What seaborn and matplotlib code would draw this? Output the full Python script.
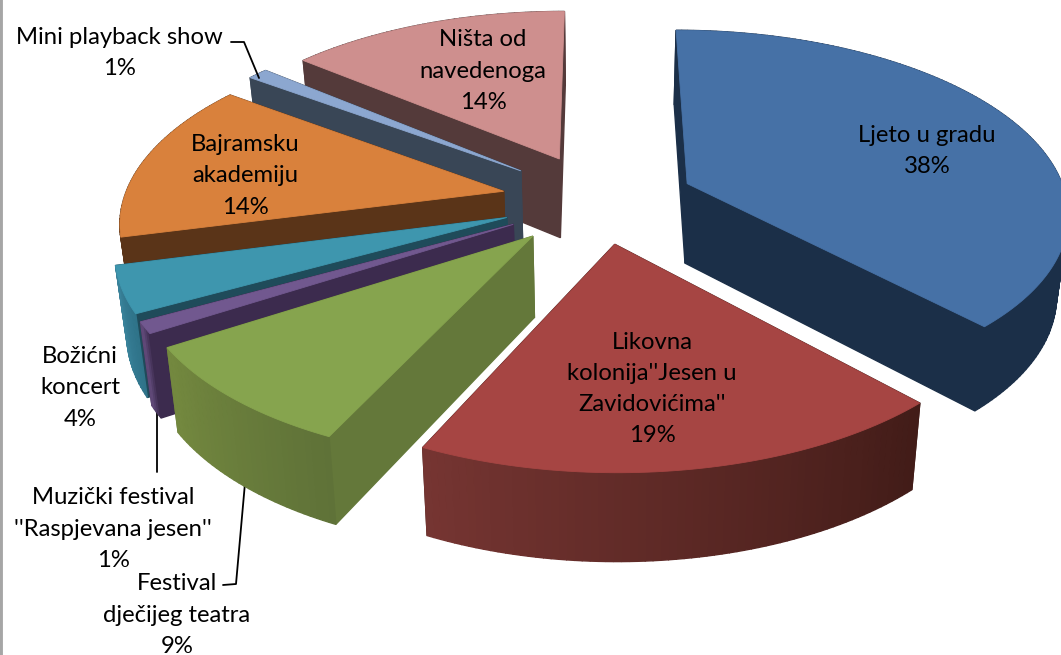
"""Eksplodirani 3D pie chart (perspektiva racunata rucno)."""
import numpy as np
import matplotlib
matplotlib.use("Agg")
import matplotlib.pyplot as plt
import seaborn as sns

CATEGORIES = [
    "Ljeto u gradu",
    "Likovna\nkolonija''Jesen u\nZavidovićima''",
    "Festival\ndječijeg teatra",
    "Muzički festival\n''Raspjevana jesen''",
    "Božićni\nkoncert",
    "Bajramsku\nakademiju",
    "Mini playback show",
    "Ništa od\nnavedenoga",
]
VALUES = [38, 19, 9, 1, 4, 14, 1, 14]

# izgled kriski
TOP_COLORS = ["#4671a6", "#a64543", "#86a44e", "#71588f", "#3e96ae", "#d9813c", "#8ca7d0", "#ce8f8e"]
ARC_COLORS = [("#1b2f48", "#1b2f48"), ("#421c18", "#763532"), ("#5f7238", "#74893f"), ("#3c2b4e", "#6a5285"),
              ("#2f7389", "#3a839b"), ("#5a3418", "#5a3418"), ("#394656", "#394656"), ("#543a3a", "#543a3a")]
SIDE_COLORS = ["#1b2f48", "#421c18", "#64783a", "#3c2b4e", "#1f4b5a", "#5a3418", "#394656", "#543a3a"]
EXPLODE = [0.25, 0.24, 0.26, 0.26, 0.26, 0.26, 0.27, 0.26]
DRAW_ORDER = [7, 6, 5, 4, 3, 2, 1, 0]
LABEL_POS = [(927, 150), (652, 388), (177, 614), (113, 528), (80, 387), (245, 175), (119, 52), (483, 70)]

# perspektiva
CX, CY, HORIZON, RADIUS, PERSP, DEPTH, NADIR = 600, 200, -1027, 380, 0.147, 80, 0.975
START_ANGLE = 0


def project(x, y, bottom=False):
    p = 1 / (1 - PERSP * np.asarray(y))
    sx = CX + np.asarray(x) * RADIUS * p
    sy = HORIZON + (CY - HORIZON) * p
    if bottom:
        sx = CX + (sx - CX) * NADIR
        sy = sy + DEPTH * (1 + 0.5 * (p - 1))
    return sx, sy


def draw_quad(ax, p1, p2, color):
    bx, by = project([p1[0], p2[0]], [p1[1], p2[1]], bottom=True)
    tx, ty = project([p1[0], p2[0]], [p1[1], p2[1]])
    ax.fill([tx[0], tx[1], bx[1], bx[0]], [ty[0], ty[1], by[1], by[0]],
            color=color, lw=1.0, zorder=2)


def draw_slice(ax, t0, t1, explode, top, arc_cols, side):
    mid = np.radians((t0 + t1) / 2)
    ox, oy = explode * np.sin(mid), -explode * np.cos(mid)
    angles = np.radians(np.linspace(t0, t1, max(int(t1 - t0) + 2, 3)))
    xs = ox + np.sin(angles)
    ys = oy - np.cos(angles)
    apex = (ox, oy)

    # zidovi: prvo dalji pa blizi
    walls = [(ys[0] + oy, "a"), (ys[-1] + oy, "b")]
    for _, w in sorted(walls):
        if w == "a":
            draw_quad(ax, apex, (xs[0], ys[0]), side)
        else:
            draw_quad(ax, apex, (xs[-1], ys[-1]), side)
    shades = sns.blend_palette(list(arc_cols), len(xs))
    for i in range(len(xs) - 1):
        draw_quad(ax, (xs[i], ys[i]), (xs[i + 1], ys[i + 1]), shades[i])

    sx, sy = project(np.r_[ox, xs], np.r_[oy, ys])
    ax.fill(sx, sy, color=top, lw=0.6, zorder=2)


def main():
    sns.set_theme(style="white")
    plt.rcParams["font.family"] = ["Lato", "DejaVu Sans"]

    fig = plt.figure(figsize=(10.61, 6.55), dpi=100)
    ax = fig.add_axes([0, 0, 1, 1])
    ax.set_xlim(0, 1061)
    ax.set_ylim(655, 0)
    ax.set_xticks([])
    ax.set_yticks([])
    sns.despine(ax=ax, top=True, right=True, bottom=True, left=False)
    ax.spines["left"].set_color("#a6a6a6")
    ax.spines["left"].set_linewidth(3.5)

    edges = START_ANGLE + np.r_[0, np.cumsum(VALUES)] / np.sum(VALUES) * 360
    for i in DRAW_ORDER:
        draw_slice(ax, edges[i], edges[i + 1], EXPLODE[i], TOP_COLORS[i], ARC_COLORS[i], SIDE_COLORS[i])

    # linije do natpisa
    ax.plot([231, 244, 259], [42, 42, 78], color="black", lw=1.3, zorder=3)
    ax.plot([157, 157], [412, 472], color="black", lw=1.3, zorder=1)
    ax.plot([223, 236, 245], [585, 584, 483], color="black", lw=1.3, zorder=1)

    for name, value, (x, y) in zip(CATEGORIES, VALUES, LABEL_POS):
        ax.text(x, y + 1, f"{name}\n{value}%", ha="center", va="center", fontsize=17.2,
                color="black", linespacing=1.6, zorder=4)

    fig.savefig("out.png", dpi=100)
    plt.close(fig)


if __name__ == "__main__":
    main()
